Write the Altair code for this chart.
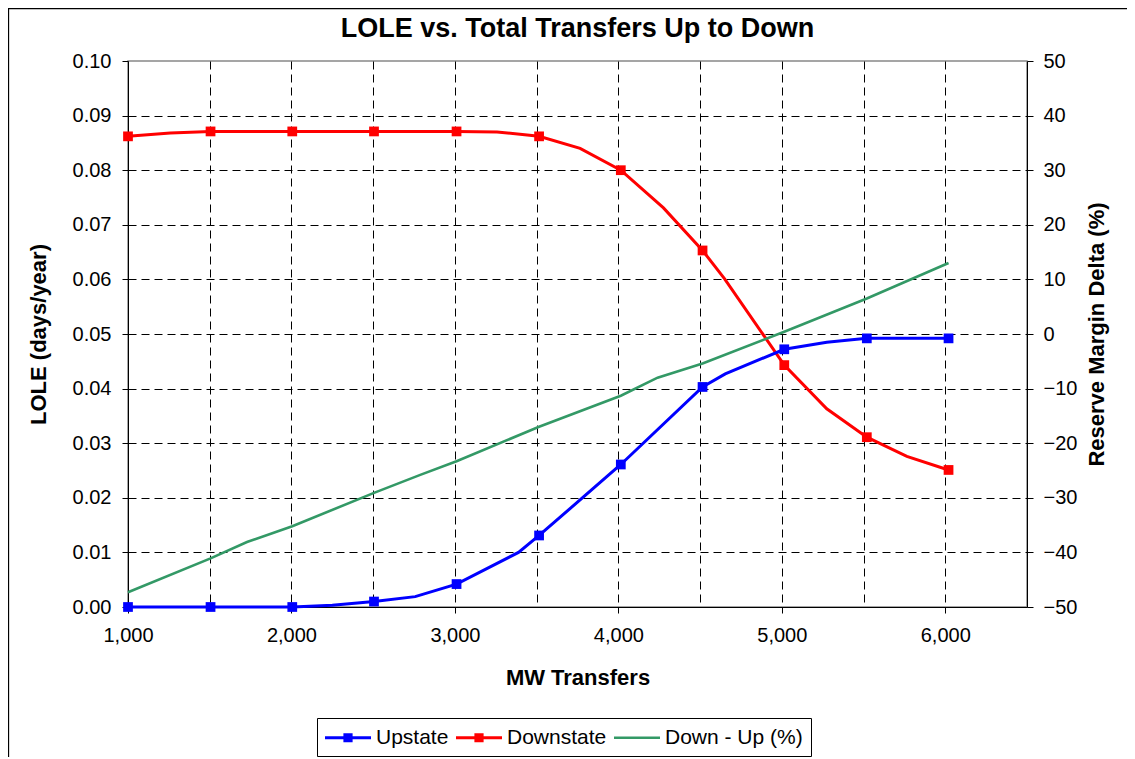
import altair as alt
import pandas as pd

# ---------------- data ----------------
series_names = ["Upstate", "Downstate", "Down - Up (%)"]
series_colors = ["#0000FF", "#FF0000", "#339966"]

# marker points (MW transfers)
mw_marker = [1000, 1505, 2005, 2505, 3010, 3515, 4015, 4515, 5015, 5520, 6020]
upstate_marker = [0.0, 0.0, 0.0, 0.0010, 0.0042, 0.0131, 0.0261, 0.0403, 0.0472, 0.0492, 0.0492]
downstate_marker = [0.0862, 0.0871, 0.0871, 0.0871, 0.0871, 0.0862, 0.0800, 0.0653, 0.0443, 0.0311, 0.0251]

# extra line vertices between markers
upstate_mid_mw = [2250, 2757, 3389, 4654, 5275]
upstate_mid = [0.0003, 0.0019, 0.0100, 0.0427, 0.0485]
downstate_mid_mw = [1259, 3258, 3766, 4276, 4650, 5275, 5765]
downstate_mid = [0.0868, 0.0870, 0.0840, 0.0731, 0.0601, 0.0363, 0.0276]

# Down - Up (%) (right axis)
diff_mw = [1000, 1505, 1728, 2005, 2505, 2788, 3010, 3515, 4015, 4240, 4515, 5015, 5520, 6020]
diff_pct = [-47.3, -41.1, -38.1, -35.2, -29.1, -25.8, -23.3, -17.0, -11.3, -8.0, -5.4, 0.4, 6.5, 13.0]

x_grid_values = [1000, 1500, 2000, 2500, 3000, 3500, 4000, 4500, 5000, 5500, 6000]
y_left_values = [0.0, 0.01, 0.02, 0.03, 0.04, 0.05, 0.06, 0.07, 0.08, 0.09, 0.10]
y_right_values = [-50, -40, -30, -20, -10, 0, 10, 20, 30, 40, 50]

# ---------------- tables ----------------
rows = []
for x, v in zip(mw_marker + upstate_mid_mw, upstate_marker + upstate_mid):
    rows.append({"series": "Upstate", "mw": x, "value": v})
for x, v in zip(mw_marker + downstate_mid_mw, downstate_marker + downstate_mid):
    rows.append({"series": "Downstate", "mw": x, "value": v})
df_lines = pd.DataFrame(rows).sort_values(["series", "mw"])

mrows = []
for x, u, d in zip(mw_marker, upstate_marker, downstate_marker):
    mrows.append({"series": "Upstate", "mw": x, "value": u})
    mrows.append({"series": "Downstate", "mw": x, "value": d})
df_markers = pd.DataFrame(mrows)

df_diff = pd.DataFrame({"series": "Down - Up (%)", "mw": diff_mw, "pct": diff_pct})
df_legend = pd.DataFrame({"series": series_names, "mw": [0, 0, 0], "value": [0, 0, 0]})

FONT = "Liberation Sans"
W, H = 899, 546

# legend symbols: a line with a square, extending to the right of the symbol slot
line_sq = "M-1,-0.13L3,-0.13L3,0.13L-1,0.13Z M0.6,-0.4L1.4,-0.4L1.4,0.4L0.6,0.4Z"
line_only = "M-1,-0.11L3,-0.11L3,0.11L-1,0.11Z"

legend = alt.Legend(
    title=None, orient="none", legendX=189, legendY=657, direction="horizontal",
    symbolSize=529, symbolStrokeWidth=0, symbolOpacity=1,
    labelFontSize=21, labelFont=FONT, labelColor="black", labelOffset=28,
    strokeColor="black", fillColor="white", padding=8, columnPadding=7,
)

color = alt.Color("series:N", scale=alt.Scale(domain=series_names, range=series_colors), legend=legend)

x_enc = alt.X(
    "mw:Q",
    scale=alt.Scale(domain=[1000, 6500], nice=False, zero=False),
    axis=alt.Axis(
        values=x_grid_values, title="MW Transfers",
        labelExpr="datum.value % 1000 === 0 ? format(datum.value, ',') : ''",
        labelFlush=False,
        tickOpacity={"condition": {"test": "datum.value % 1000 === 0", "value": 1}, "value": 0},
        gridOpacity={"condition": {"test": "datum.value <= 1000", "value": 0}, "value": 1},
        grid=True, gridColor="black", gridDash=[8, 5], gridWidth=1,
        tickSize=6, tickColor="black", domainColor="black",
        labelFontSize=20, labelFont=FONT, labelColor="black", labelPadding=12,
        titleFontSize=22, titleFont=FONT, titleFontWeight="bold", titleColor="black",
        titleX=W / 2, titleY=70, titleBaseline="middle",
    ),
)

y_left = alt.Y(
    "value:Q",
    scale=alt.Scale(domain=[0, 0.1], nice=False, zero=False),
    axis=alt.Axis(
        values=y_left_values, format=".2f", title="LOLE (days/year)",
        grid=True, gridColor="black", gridDash=[8, 5], gridWidth=1,
        gridOpacity={"condition": {"test": "datum.value >= 0.0999 || datum.value <= 0.0001", "value": 0}, "value": 1},
        tickSize=6, tickColor="black", domainColor="black",
        labelFontSize=20, labelFont=FONT, labelColor="black", labelPadding=11,
        titleFontSize=22, titleFont=FONT, titleFontWeight="bold", titleColor="black",
        titleX=-90, titleY=H / 2, titleAngle=270, titleBaseline="middle", titleAlign="center",
    ),
)

y_right = alt.Y(
    "pct:Q",
    scale=alt.Scale(domain=[-50, 50], nice=False, zero=False),
    axis=alt.Axis(
        orient="right", values=y_right_values, format="d", title="Reserve Margin Delta (%)",
        grid=False, tickSize=6, tickColor="black", domainColor="black",
        labelFontSize=20, labelFont=FONT, labelColor="black", labelPadding=10,
        titleFontSize=22, titleFont=FONT, titleFontWeight="bold", titleColor="black",
        titleX=69, titleY=H / 2, titleAngle=270, titleBaseline="middle", titleAlign="center",
    ),
)

frame = alt.Chart(pd.DataFrame({"k": [0]})).mark_rect(
    fill="white", fillOpacity=0, stroke="black", strokeWidth=1.3
).encode(
    x=alt.value(-119.5), x2=alt.value(1100), y=alt.value(-52.5), y2=alt.value(800)
)

lines = alt.Chart(df_lines).mark_line(strokeWidth=3).encode(
    x=x_enc, y=y_left, color=color, detail="series:N", order="mw:Q"
)
markers = alt.Chart(df_markers).mark_square(size=95, opacity=1, filled=True).encode(
    x=x_enc, y=y_left, color=color
)
legend_helper = alt.Chart(df_legend).mark_point(filled=True, clip=True, opacity=1).encode(
    x=x_enc, y=y_left, color=color,
    shape=alt.Shape("series:N", scale=alt.Scale(domain=series_names, range=[line_sq, line_sq, line_only]), legend=legend),
)

left = alt.layer(frame, lines, markers, legend_helper)

right = alt.Chart(df_diff).mark_line(strokeWidth=2.6).encode(
    x=x_enc, y=y_right, color=color, order="mw:Q"
)

chart = alt.layer(left, right).resolve_scale(y="independent").properties(
    width=W, height=H,
    title=alt.TitleParams(
        "LOLE vs. Total Transfers Up to Down", fontSize=27, font=FONT, fontWeight="bold",
        color="black", anchor="middle", frame="group", offset=0, dy=56.5, baseline="alphabetic",
    ),
    padding={"left": 120, "top": 53, "right": 100, "bottom": 150},
    autosize=alt.AutoSizeParams(type="none"),
    background="white",
).configure_view(stroke="#888888", strokeWidth=1.5)

chart.save("out.html", embed_options={"renderer": "svg", "actions": False})
